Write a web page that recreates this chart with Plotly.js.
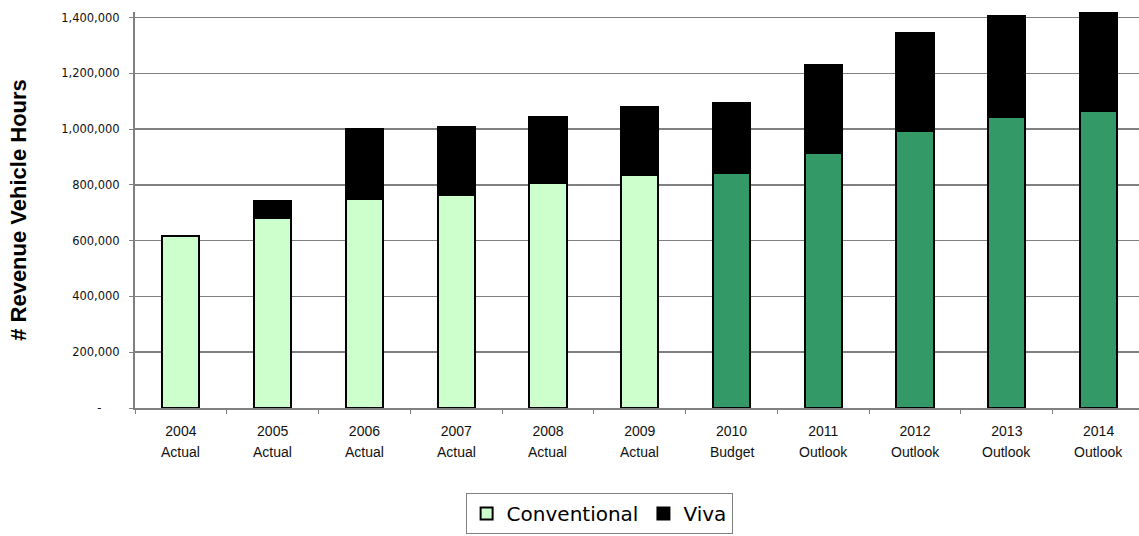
<!DOCTYPE html>
<html>
<head>
<meta charset="utf-8">
<script src="https://cdn.plot.ly/plotly-3.0.1.min.js"></script>
<style>
  html, body { margin: 0; padding: 0; background: #ffffff; }
  #chart { width: 1139px; height: 536px; }
</style>
</head>
<body>
<div id="chart"></div>
<script>
// ---- data ----
var years = ['2004', '2005', '2006', '2007', '2008', '2009', '2010', '2011', '2012', '2013', '2014'];
var phases = ['Actual', 'Actual', 'Actual', 'Actual', 'Actual', 'Actual', 'Budget', 'Outlook', 'Outlook', 'Outlook', 'Outlook'];
var conventional = [617000, 680000, 750000, 765000, 808000, 836000, 844000, 916000, 995000, 1045000, 1066000];
var viva = [0, 61000, 250000, 243000, 237000, 244000, 250000, 315000, 351000, 359000, 351000];
var yTickVals = [0, 200000, 400000, 600000, 800000, 1000000, 1200000, 1400000];
var yTickText = ['-\u00a0\u00a0\u00a0\u00a0\u00a0', '200,000', '400,000', '600,000', '800,000', '1,000,000', '1,200,000', '1,400,000'];

// ---- styles ----
var actualColor = '#CCFFCC';
var planColor = '#339966';
var convColors = phases.map(function (s) { return s === 'Actual' ? actualColor : planColor; });
var gridGray = '#808080';
var barWidth = 0.405;

var traces = [
  {
    type: 'bar', name: 'Conventional', x: years, y: conventional,
    width: barWidth,
    marker: { color: convColors, line: { color: '#000000', width: 2 } },
    hoverinfo: 'skip'
  },
  {
    type: 'bar', name: 'Viva', x: years, y: viva,
    width: barWidth,
    marker: { color: '#000000', line: { color: '#000000', width: 2 } },
    hoverinfo: 'skip'
  }
];

// second line of each category label (index position on the category axis)
var annotations = phases.map(function (ph, i) {
  return {
    x: i, xref: 'x', y: -0.1113, yref: 'paper',
    text: ph, showarrow: false,
    xanchor: 'center', yanchor: 'middle',
    font: { family: 'Liberation Sans, Arial, sans-serif', size: 14, color: '#111111' }
  };
});

var layout = {
  width: 1139, height: 536,
  margin: { l: 135, r: 0, t: 12, b: 128, pad: 0 },
  paper_bgcolor: '#ffffff', plot_bgcolor: '#ffffff',
  barmode: 'stack',
  showlegend: true,
  legend: {
    orientation: 'h', traceorder: 'normal',
    xref: 'container', yref: 'container',
    x: 0.526, xanchor: 'center', y: 0.080, yanchor: 'top',
    bordercolor: gridGray, borderwidth: 1, bgcolor: '#ffffff',
    font: { family: 'DejaVu Sans, sans-serif', size: 20, color: '#000000' },
    itemsizing: 'constant', itemwidth: 30
  },
  xaxis: {
    type: 'category',
    range: [-0.5, 10.44],
    showline: true, linecolor: gridGray, linewidth: 2,
    ticks: 'outside', tickson: 'boundaries', ticklen: 4, tickcolor: gridGray, tickwidth: 1,
    showgrid: false, zeroline: false,
    ticklabelstandoff: 9,
    tickfont: { family: 'Liberation Sans, Arial, sans-serif', size: 14, color: '#111111' },
    fixedrange: true
  },
  yaxis: {
    range: [0, 1420000],
    tickvals: yTickVals, ticktext: yTickText,
    showline: true, linecolor: gridGray, linewidth: 2,
    ticks: 'outside', ticklen: 4, tickcolor: gridGray, tickwidth: 1,
    showgrid: true, gridcolor: gridGray, gridwidth: 1.5,
    zeroline: false,
    ticklabelstandoff: 7,
    tickfont: { family: 'DejaVu Sans, sans-serif', size: 11.5, color: '#111111' },
    title: {
      text: '# Revenue Vehicle Hours',
      font: { family: 'Liberation Sans, Arial, sans-serif', size: 22, color: '#000000', weight: 'bold' },
      standoff: 28
    },
    fixedrange: true
  },
  annotations: annotations
};

Plotly.newPlot('chart', traces, layout, { displayModeBar: false, staticPlot: true });
</script>
</body>
</html>
